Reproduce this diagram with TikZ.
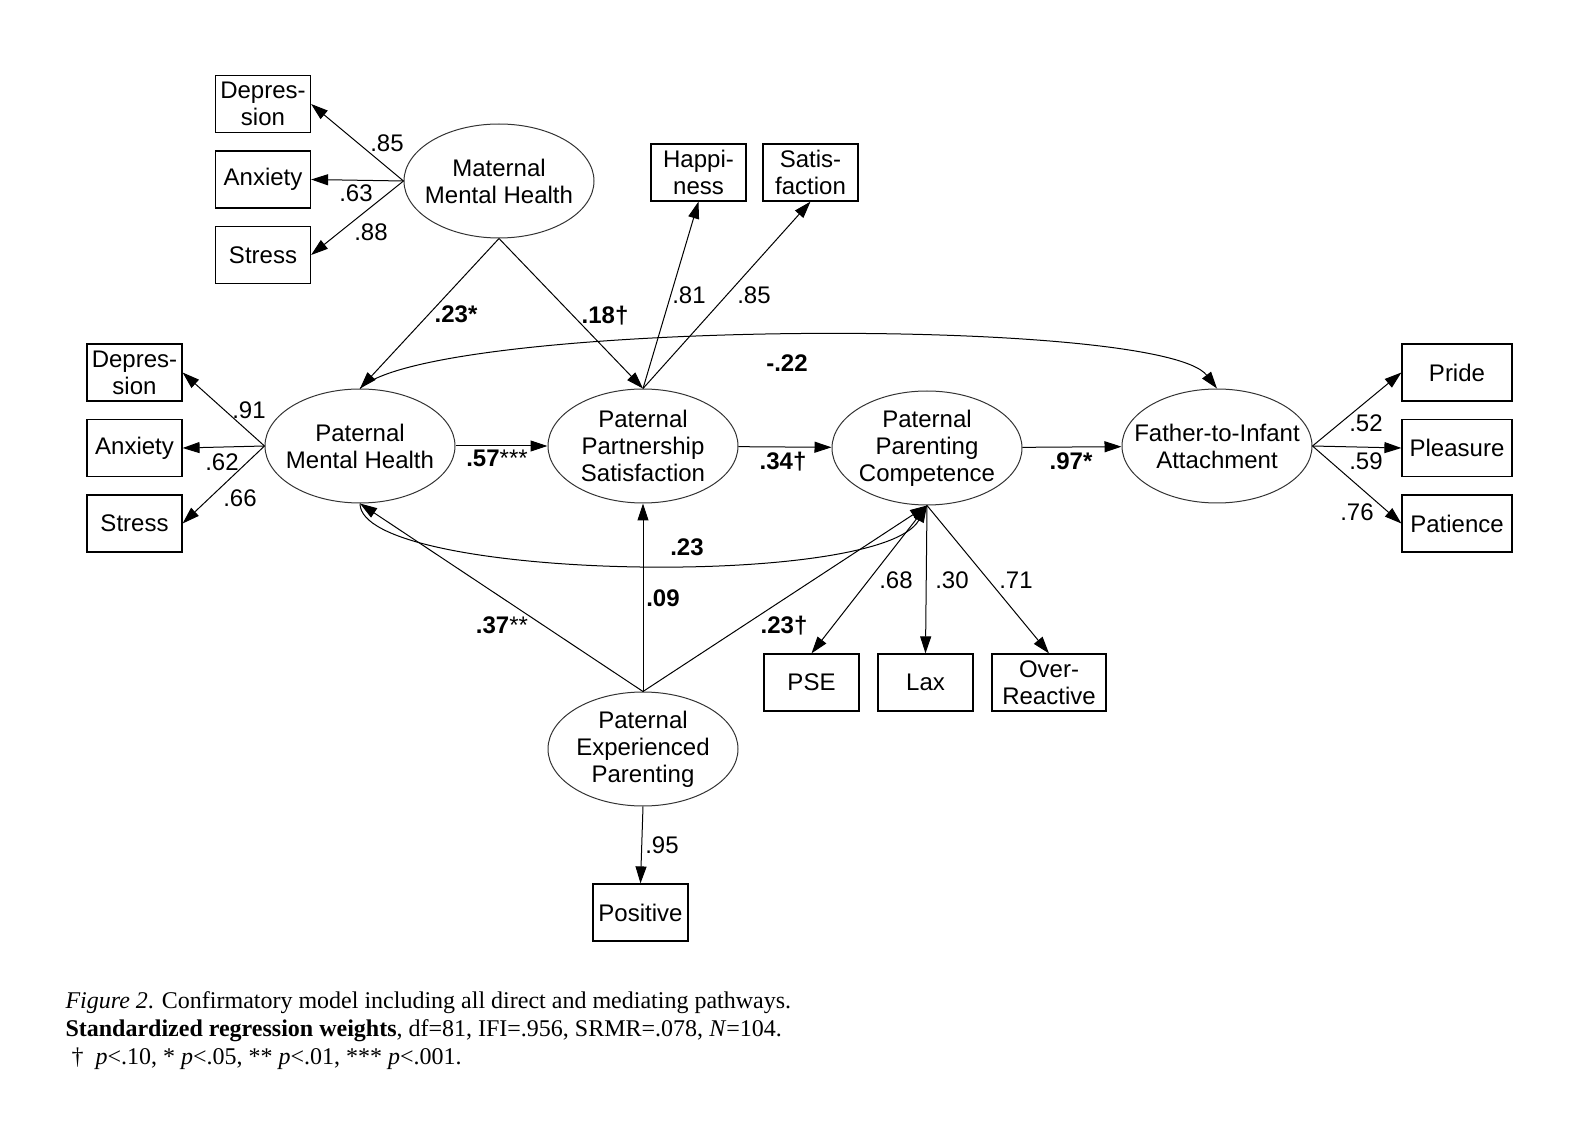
\documentclass[tikz,border=0pt]{standalone}
\usepackage{fontspec}
\setmainfont{Liberation Sans}
\newfontfamily\capfont{Liberation Serif}
\usetikzlibrary{arrows.meta,shapes.geometric}

\tikzset{
  latent/.style={ellipse, draw=black!80, line width=0.5pt, minimum width=95pt, minimum height=57pt, inner sep=0pt,
    label={[align=center]center:#1}},
  obs/.style={rectangle, draw, line width=0.6pt, minimum width=47.5pt, minimum height=28.5pt, inner sep=0pt, align=center},
  wt/.style={inner sep=0pt, text height=8.6pt, text depth=0pt},
  bwt/.style={wt, font=\fontsize{12pt}{13.5pt}\selectfont\bfseries},
  capt/.style={inner sep=0pt, anchor=base west, font=\capfont\fontsize{12pt}{14pt}\selectfont}
}

\begin{document}
\begin{tikzpicture}[x=0.5pt, y=-0.5pt, line width=0.5pt, >={Triangle[length=8.5pt,width=5.5pt]},
    font=\fontsize{12pt}{13.5pt}\selectfont]
    \useasboundingbox (0,0) rectangle (1587,1123);

    \node[latent={Maternal\\Mental Health}] (mmh) at (499,181) {};
    \node[latent={Paternal\\Mental Health}] (pmh) at (360,446) {};
    \node[latent={Paternal\\Partnership\\Satisfaction}] (pps) at (643,446) {};
    \node[latent={Paternal\\Parenting\\Competence}] (ppc) at (927,448) {};
    \node[latent={Father-to-Infant\\Attachment}] (fia) at (1217,446) {};
    \node[latent={Paternal\\Experienced\\Parenting}] (pep) at (643,749) {};

    \foreach \nm/\y/\txt in {mdep/104/{Depres-\\sion}, manx/179.5/Anxiety, mstr/255/Stress}
        \node[obs] (\nm) at (263,\y) {\txt};
    \foreach \nm/\y/\txt in {pdep/372.5/{Depres-\\sion}, panx/448/Anxiety, pstr/523.5/Stress}
        \node[obs] (\nm) at (134.5,\y) {\txt};
    \foreach \nm/\y/\txt in {pride/372.5/Pride, pleas/448/Pleasure, patie/523.5/Patience}
        \node[obs, minimum width=55pt] (\nm) at (1457,\y) {\txt};
    \node[obs] (happ) at (698.5,172.5) {Happi-\\ness};
    \node[obs] (satf) at (810.5,172.5) {Satis-\\faction};
    \node[obs] (pse) at (811.5,682.5) {PSE};
    \node[obs] (lax) at (925.5,682.5) {Lax};
    \node[obs, minimum width=57pt] (ovr) at (1049,682.5) {Over-\\Reactive};
    \node[obs] (posi) at (640.5,912.5) {Positive};

    \foreach \nm in {mdep,manx,mstr} \draw[->] (mmh.west) -- (\nm.east);
    \foreach \nm in {pdep,panx,pstr} \draw[->] (pmh.west) -- (\nm.east);
    \foreach \nm in {pride,pleas,patie} \draw[->] (fia.east) -- (\nm.west);
    \foreach \nm in {happ,satf} \draw[->] (pps.north) -- (\nm.south);
    \foreach \nm in {pse,lax,ovr} \draw[->] (ppc.south) -- (\nm.north);
    \draw[->] (pep.south) -- (posi.north);
    \foreach \nm in {pmh,pps} \draw[->] (mmh.south) -- (\nm.north);
    \foreach \nm in {pmh,pps,ppc} \draw[->] (pep.north) -- (\nm.south);
    \draw[->] (pmh) -- (pps);
    \draw[->] (pps) -- (ppc);
    \draw[->] (ppc) -- (fia);
    \draw[->] (pmh.north) .. controls (430,320) and (1160,315) .. (fia.north);
    \draw[->] (pmh.south) .. controls (360,580) and (880,590) .. (ppc.south);

    \foreach \nm/\x/\y/\v in {wa/387/143/.85, wb/356/193/.63, wc/371/232/.88,
        wd/249/410/.91, we/222/462/.62, wf/240/498/.66, wg/689/295/.81, wh/754/295/.85,
        wi/1366/423/.52, wj/1366/461/.59, wk/1357/512/.76, wl/896/580/.68,
        wm/952/580/.30, wn/1016/580/.71, wo/662/845/.95}
        \node[wt] (\nm) at (\x,\y) {\v};
    \foreach \nm/\x/\y/\v in {ba/456/314/.23*, bb/605/315/.18†, bc/787/363/-.22,
        bd/783/461/.34†, be/1071/461/.97*, bf/687/547/.23, bg/663/598/.09, bh/784/625/.23†}
        \node[bwt] (\nm) at (\x,\y) {\v};
    \node[wt] (bi) at (497,458) {\textbf{.57}***};
    \node[wt] (bj) at (502,625) {\textbf{.37}**};

    \node[capt] (cap1) at (65,1008) {\textit{Figure 2}. Confirmatory model including all direct and mediating pathways.};
    \node[capt] (cap2) at (65,1036) {\textbf{Standardized regression weights}, df=81, IFI=.956, SRMR=.078, \textit{N}=104.};
    \node[capt] (cap3) at (65,1064) {\ †\ \ \textit{p}<.10, * \textit{p}<.05, ** \textit{p}<.01, *** \textit{p}<.001.};
\end{tikzpicture}
\end{document}
